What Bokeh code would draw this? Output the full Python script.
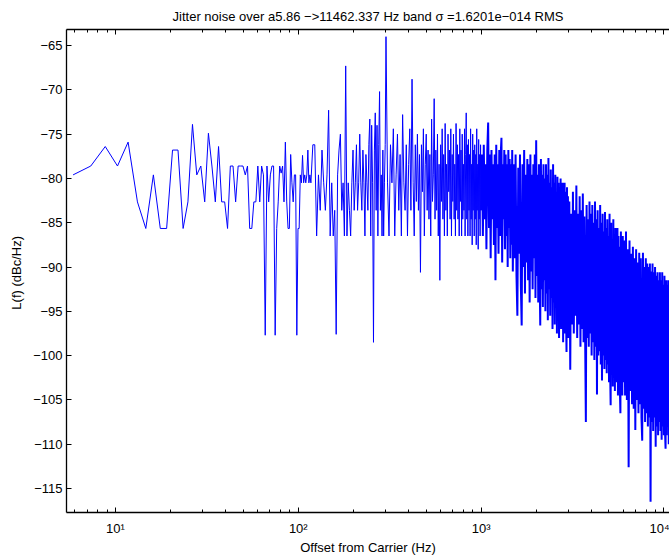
import numpy as np
from bokeh.plotting import figure
from bokeh.models import FixedTicker, CustomJSTickFormatter, LogAxis, ColumnDataSource
from bokeh.embed import file_html
from bokeh.resources import INLINE

TITLE = "Jitter noise over a5.86 \u2212>11462.337 Hz band \u03c3 =1.6201e\u2212014 RMS"
X_LABEL = "Offset from Carrier (Hz)"
Y_LABEL = "L(f)  (dBc/Hz)"
FONT = "Liberation Sans"

BIN_HZ = 1.465017            # FFT bin width (Hz)
X_TICKS = [10, 100, 1000, 10000]
X_MINOR = [m * 10 ** e for e in range(0, 5) for m in range(2, 10)]
Y_TICKS = [-115, -110, -105, -100, -95, -90, -85, -80, -75, -70, -65]

# levels (dBc/Hz); bins 4..79, every bin
lvl_a = [-79.6, -78.6, -76.4, -78.6, -75.9, -82.65, -85.65, -79.6, -85.65, -85.65,
         -76.8, -76.8, -85.65, -82.65, -73.9, -79.6, -78.6, -82.65, -74.9, -78.6,
         -82.65, -76.4, -82.65, -82.65, -85.65, -78.6, -78.6, -82.65, -78.6, -78.6,
         -78.6, -79.6, -78.6, -85.65, -85.65, -82.65, -82.65, -78.6, -82.65, -78.6,
         -79.6, -97.7, -78.6, -82.65, -79.6, -78.6, -78.6, -97.7, -85.65, -82.65,
         -78.6, -79.4, -78.6, -82.65, -75.9, -82.65, -85.65, -85.65, -77.3, -80.5,
         -82.65, -79.6, -79.6, -97.7, -85.65, -85.65, -79.6, -80.5, -77.4, -80.5,
         -79.6, -80.5, -79.6, -76.8, -80.5, -79.6]
# bins 80..204, every 2nd bin
lvl_b = [-80.5, -76.2, -76.2, -86.5, -79.6, -83.6, -76.8, -80.5, -83.6, -79.6,
         -72.3, -86.5, -80.5, -86.5, -83.6, -97.6, -79.6, -76.8, -75.0, -83.6,
         -80.5, -86.5, -67.3, -86.5, -80.5, -83.6, -86.5, -80.5, -76.8, -83.6,
         -80.5, -76.2, -83.6, -80.5, -75.0, -80.5, -83.6, -76.8, -80.5, -86.5,
         -77.3, -80.5, -83.6, -76.2, -73.3, -86.5, -74.0, -80.5, -98.5, -76.8,
         -72.6, -83.6, -74.0, -86.5, -76.2, -70.2, -83.6, -79.6, -86.5, -76.8,
         -86.5, -80.5, -76.2]
# bins 206..682, every 4th bin
lvl_c = [-64.0, -80.5, -86.5, -76.2, -80.5, -74.4, -86.5, -79.6, -75.0, -83.6,
         -77.3, -86.5, -72.8, -80.5, -83.6, -76.2, -86.5, -78.4, -74.4, -83.6,
         -68.8, -80.5, -86.5, -76.2, -82.6, -75.0, -83.6, -77.3, -90.6, -76.2,
         -81.5, -74.4, -86.5, -78.4, -75.0, -83.6, -76.8, -84.6, -77.3, -86.5,
         -73.3, -82.6, -79.6, -71.0, -84.6, -76.8, -83.6, -75.0, -86.5, -78.4,
         -91.5, -76.2, -82.6, -74.4, -84.6, -77.3, -86.5, -73.8, -83.6, -78.4,
         -86.5, -75.0, -81.5, -76.8, -84.6, -74.4, -86.5, -77.3, -82.6, -75.0,
         -84.6, -78.4, -86.5, -73.8, -83.6, -76.2, -84.6, -77.3, -86.5, -74.4,
         -82.6, -76.8, -86.5, -75.0, -84.6, -78.4, -83.6, -74.4, -86.5, -77.3,
         -72.6, -84.6, -76.2, -86.5, -75.6, -83.6, -77.3, -86.5, -74.4, -84.6,
         -78.4, -87.5, -75.0, -83.6, -76.8, -86.5, -76.2, -84.6, -77.3, -87.5,
         -74.4, -83.6, -78.4, -88.0, -75.6, -84.6, -77.3, -86.5, -76.2, -83.6]
# bins 690..1018, every 8th bin
lvl_d1 = [-77.3, -86.5, -76.2, -84.6, -78.4, -88.0, -76.8, -73.7, -85.6, -77.3,
          -89.0, -76.8, -84.6, -78.4, -87.5, -77.3, -91.5, -76.2, -85.6, -78.4,
          -88.5, -76.8, -86.5, -77.3, -75.4, -89.5, -78.4, -84.6, -76.8, -88.0,
          -77.3, -86.5, -78.4, -90.0, -76.8, -85.6, -77.8, -89.0, -78.4, -87.5,
          -76.8, -90.5]
# bins 1030..2050, every 12th bin
lvl_d2 = [-78.4, -89.0, -77.3, -91.0, -95.5, -78.8, -88.5, -77.3, -92.0, -96.6,
          -78.4, -90.0, -76.8, -93.0, -79.6, -89.5, -77.8, -91.5, -78.4, -94.0,
          -77.3, -90.5, -79.6, -92.5, -78.4, -89.0, -77.3, -93.5, -75.7, -91.0,
          -79.6, -94.0, -78.4, -90.5, -96.6, -77.8, -92.5, -79.6, -94.5, -78.4,
          -91.5, -80.0, -95.0, -78.4, -93.0, -79.6, -96.0, -77.7, -92.5, -80.5,
          -95.5, -79.0, -93.5, -81.0, -97.0, -78.4, -94.0, -80.5, -96.5, -79.6,
          -93.5, -81.5, -97.5, -79.8, -95.0, -80.5, -98.0, -81.0, -94.5, -80.0,
          -97.0, -81.5, -95.5, -80.5, -98.5, -82.0, -96.0, -80.5, -97.5, -81.5,
          -95.5, -99.6, -81.0, -96.5, -82.0, -98.0]
# bins 2074..4090, every 24th bin
lvl_e1 = [-82.6, -101.6, -84.0, -96.5, -81.5, -97.5, -83.6, -95.5, -80.8, -98.0,
          -84.0, -96.5, -82.0, -99.0, -83.6, -97.0, -81.7, -98.5, -84.3, -97.5,
          -107.5, -83.0, -98.0, -84.6, -99.0, -82.6, -97.5, -84.0, -100.0, -83.0,
          -98.5, -85.0, -100.5, -82.6, -99.0, -84.6, -104.4, -83.6, -100.0, -85.6,
          -99.5, -83.0, -101.0, -85.0, -102.8, -84.0, -100.0, -86.0, -101.5, -83.8,
          -100.5, -85.6, -102.0, -84.6, -101.0, -86.5, -103.0, -84.0, -101.5, -105.6,
          -85.0, -102.0, -87.0, -103.5, -84.6, -102.5, -86.5, -104.0, -85.6, -103.0,
          -87.5, -102.0, -85.6, -104.5, -86.5, -103.0, -87.7, -104.0, -106.5, -86.0,
          -103.5, -87.5, -104.5, -86.5, -103.0]
# bins 4138..7786, every 48th bin
lvl_e2 = [-87.0, -104.5, -86.0, -105.0, -88.0, -112.6, -87.0, -104.0, -88.5, -105.5,
          -87.7, -106.0, -89.0, -108.4, -88.0, -105.0, -89.5, -106.5, -88.4, -105.5,
          -89.0, -107.0, -109.6, -88.4, -106.0, -90.0, -107.5, -89.0, -106.5, -89.6,
          -108.0, -90.0, -107.0, -89.6, -116.5, -90.5, -107.5, -89.6, -108.5, -90.6,
          -107.0, -90.0, -110.3, -91.0, -108.0, -90.6, -109.0, -91.5, -107.5, -90.6,
          -108.5, -91.5, -109.5, -90.6, -108.0, -92.0, -109.0, -91.0, -108.5, -110.5,
          -91.5, -109.0, -92.0, -108.0, -91.5, -110.0, -92.5, -109.0, -91.5, -110.5,
          -93.0, -109.5, -92.0, -110.0, -93.0, -109.0, -92.5]

SPARSE = [(4, 1, lvl_a), (80, 2, lvl_b), (206, 4, lvl_c)]
DENSE = [(690, 8, lvl_d1), (1030, 12, lvl_d2), (2074, 24, lvl_e1), (4138, 48, lvl_e2)]


def build(segments):
    f, L = [], []
    for first, step, lv in segments:
        bins = first + step * np.arange(len(lv))
        f.extend((bins * BIN_HZ).tolist())
        L.extend(lv)
    return f, L


f_s, L_s = build(SPARSE)
f_d, L_d = build(DENSE)
# the dense trace continues from the last sparse point
src_s = ColumnDataSource(data=dict(f=f_s, L=L_s))
src_d = ColumnDataSource(data=dict(f=f_s[-1:] + f_d, L=L_s[-1:] + L_d))

p = figure(width=669, height=557, x_axis_type="log",
           x_range=(5.395, 10730), y_range=(-117.71, -63.19),
           output_backend="svg", toolbar_location=None, title=TITLE,
           min_border_left=66, min_border_right=0, min_border_top=29, min_border_bottom=45)
p.outline_line_color = None
p.xgrid.visible = False
p.ygrid.visible = False
p.background_fill_color = "white"
p.border_fill_color = "white"

p.line("f", "L", source=src_s, line_color="#0000ff", line_width=1)
p.line("f", "L", source=src_d, line_color="#0000ff", line_width=2.0)

p.title.text_font = FONT
p.title.text_font_size = "13px"
p.title.text_font_style = "normal"
p.title.text_color = "black"
p.title.align = "center"
p.title.offset = 4
p.title.vertical_align = "top"
p.title.standoff = 8

xticker = FixedTicker(ticks=X_TICKS, minor_ticks=X_MINOR)
xfmt = CustomJSTickFormatter(code="""
const e = Math.round(Math.log10(tick));
const s = ['\u2070','\u00b9','\u00b2','\u00b3','\u2074','\u2075'];
return '10' + s[e];
""")
yfmt = CustomJSTickFormatter(code="return tick < 0 ? '\u2212' + Math.abs(tick) : String(tick);")


def style(ax):
    ax.axis_line_color = "black"
    ax.axis_line_width = 1.3
    ax.major_tick_line_color = "black"
    ax.minor_tick_line_color = "black"
    ax.major_tick_in = 5
    ax.major_tick_out = 0
    ax.minor_tick_in = 3
    ax.minor_tick_out = 0
    ax.major_label_text_font = FONT
    ax.major_label_text_font_size = "13px"
    ax.major_label_text_color = "black"
    ax.axis_label_text_font = FONT
    ax.axis_label_text_font_size = "13px"
    ax.axis_label_text_font_style = "normal"
    ax.axis_label_text_color = "black"


xa = p.xaxis[0]
xa.ticker = xticker
xa.formatter = xfmt
xa.axis_label = X_LABEL
xa.major_label_standoff = 8
xa.axis_label_standoff = 1
style(xa)

ya = p.yaxis[0]
ya.ticker = FixedTicker(ticks=Y_TICKS, minor_ticks=[])
ya.formatter = yfmt
ya.axis_label = Y_LABEL
ya.major_label_standoff = 4
ya.axis_label_standoff = 6
style(ya)

top = LogAxis(ticker=xticker)
style(top)
top.major_label_text_font_size = "0px"
top.major_label_text_alpha = 0
top.major_label_standoff = 0
p.add_layout(top, "above")

open("out.html", "w").write(file_html(p, INLINE))
